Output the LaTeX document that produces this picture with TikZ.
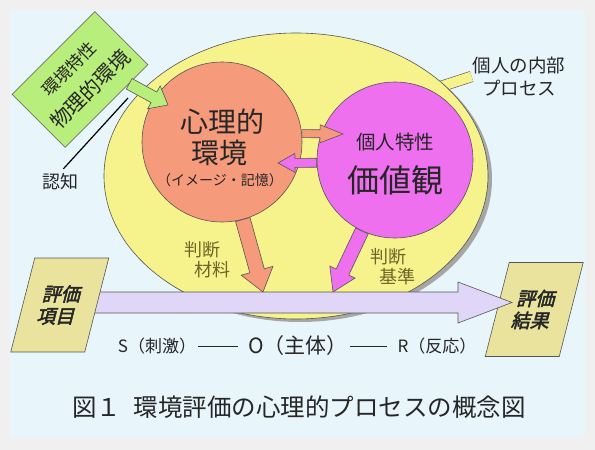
\documentclass[tikz,border=0pt]{standalone}
\usepackage{fontspec}
\setmainfont{Noto Sans CJK JP}
\newfontfamily\heavyjp{Noto Sans CJK JP}[FakeBold=2.5]
\usetikzlibrary{shapes,arrows.meta,positioning,shadows,calc}
\definecolor{pageGray}{HTML}{F0F0F0}
\definecolor{panelBlue}{HTML}{E8F5FB}
\definecolor{ovalYellow}{HTML}{F7F38C}
\definecolor{shadowGray}{HTML}{A6A6A6}
\definecolor{psyFill}{HTML}{F59B7B}
\definecolor{valFill}{HTML}{EE70EE}
\definecolor{physFill}{HTML}{B8EE7C}
\definecolor{flowLav}{HTML}{E0D6F7}
\definecolor{evalFill}{HTML}{E9E39E}
\definecolor{cueOlive}{HTML}{6F6529}
\definecolor{edgeGray}{HTML}{555555}
\definecolor{inkDark}{HTML}{262626}

\newcommand{\fsz}[1]{\fontsize{#1}{#1}\selectfont}
% block arrow: [style]{from}{to}{shaft}{head width}{head length}
\newcommand{\blockarrow}[6][]{%
  \path[#1] let \p1=(#2), \p2=(#3),
    \n1={atan2(\y2-\y1,\x2-\x1)}, \n2={veclen(\x2-\x1,\y2-\y1)} in
    [shift={(\p1)}, rotate=\n1]
    (0,{-#4/2}) -- ({\n2-#6},{-#4/2}) -- ({\n2-#6},{-#5/2}) -- (\n2,0)
    -- ({\n2-#6},{#5/2}) -- ({\n2-#6},{#4/2}) -- (0,{#4/2}) -- cycle;}

\begin{document}
\begin{tikzpicture}[x=1pt, y=1pt,
    every node/.style={text=inkDark, inner sep=1pt},
    outline/.style={draw=edgeGray, line width=0.6pt},
    ovalProc/.style={ellipse, outline, fill=ovalYellow, minimum width=384, minimum height=286,
      drop shadow={shadow xshift=4pt, shadow yshift=-3pt, fill=shadowGray, opacity=1}},
    circPsy/.style={circle, outline, fill=psyFill, minimum size=160},
    circVal/.style={circle, outline, fill=valFill, minimum size=156},
    boxPhys/.style={rectangle, outline, fill=physFill, minimum width=117, minimum height=75, rotate=45,
      align=center, font=\fontsize{20.5}{25.5}\selectfont},
    boxEval/.style={rectangle, outline, fill=evalFill, minimum width=74, minimum height=94, xslant=0.255,
      align=center, font=\heavyjp\fontsize{19}{22}\selectfont},
    strip/.style={draw=edgeGray, line width=0.6pt, double=ovalYellow, double distance=10pt},
    cue/.style={text=cueOlive, align=left, font=\fontsize{18}{20}\selectfont},
    bond/.style={draw=inkDark, line width=0.6pt, shorten <=1pt, shorten >=9pt},
    tick/.style={draw=black, line width=1.2pt, shorten <=5pt}
  ]
  \useasboundingbox (0,0) rectangle (595,-450);
  \fill[pageGray] (0,0) rectangle (595,-450);
  \fill[panelBlue] (10,-10) rectangle (585,-437);

  % inner process oval and its callout
  \node[align=center, font=\fontsize{18.5}{23}\selectfont] (procLbl) at (519,-76.5) {個人の内部\\プロセス};
  \coordinate (procFoot) at (430,-90);
  \draw[strip] (procFoot) -- (procLbl.west);
  \node[ovalProc] (innerProc) at (296,-176) {};

  % two circles
  \node[circPsy] (psyEnv) at (222,-142) {};
  \node[circVal] (valueView) at (395,-160) {};
  \coordinate (psyToVal) at (343,-134);
  \coordinate (valToPsy) at (278,-163);
  \blockarrow[outline, fill=psyFill]{psyEnv.6}{psyToVal}{8}{18}{23}
  \blockarrow[outline, fill=valFill]{valueView.182}{valToPsy}{9}{19}{17}

  \node[font=\fsz{28}] (psyTitleA) at (222,-122) {心理的};
  \node[font=\fsz{28}] (psyTitleB) at (219,-153) {環境};
  \node[font=\fsz{14}] (psyNote) at (220,-180) {（イメージ・記憶）};
  \node[font=\fsz{19.5}] (valNote) at (395,-142) {個人特性};
  \node[font=\fsz{32}] (valTitle) at (395,-180) {価値観};

  % judgement arrows
  \coordinate (psyDrop) at (263,-292);
  \coordinate (valDrop) at (333,-292);
  \blockarrow[outline, fill=psyFill]{psyEnv.-75}{psyDrop}{15}{33}{22}
  \blockarrow[outline, fill=valFill]{valueView.-115}{valDrop}{14}{28}{22}
  \node[cue] (cueMaterial) at (207.5,-260) {判断\\\hspace*{10pt}材料};
  \node[cue] (cueStandard) at (393,-267) {判断\\\hspace*{9pt}基準};

  % evaluation flow
  \node[boxEval] (resultOut) at (534.25,-309.5) {評価\\結果};
  \coordinate (evalTip) at (512,-302.5);
  \node[boxEval, draw=none, fill=none] (itemAnchor) at (59.75,-305) {};
  \blockarrow[outline, fill=flowLav]{itemAnchor.center |- evalTip}{evalTip}{21}{41}{54}
  \node[boxEval] (itemIn) at (59.75,-305) {評価\\項目};

  % physical environment
  \node[boxPhys] (physEnv) at (80,-79.5) {{\fsz{17}環境特性}\\[5pt]物理的環境};
  \coordinate (physTip) at (168,-105);
  \blockarrow[outline, fill=physFill]{$(physEnv.south)!0.54!(physEnv.south east)$}{physTip}{12}{26}{16}
  \node[font=\fsz{18}] (percLbl) at (60,-182) {認知};
  \coordinate (percPt) at (128,-98);
  \draw[tick] (percLbl.north) -- (percPt);

  % S-O-R row
  \node[font=\fsz{17}] (stim) at (157,-346) {S（刺激）};
  \node[font=\fsz{21}] (subj) at (298,-346) {O（主体）};
  \node[font=\fsz{17}] (resp) at (437,-346) {R（反応）};
  \draw[bond] (stim.east) -- (subj.west);
  \draw[bond] (subj.east) -- (resp.west);

  \node[font=\fsz{24.5}] (figTitle) at (299,-407) {図１\hspace{0.5em}環境評価の心理的プロセスの概念図};
\end{tikzpicture}
\end{document}
